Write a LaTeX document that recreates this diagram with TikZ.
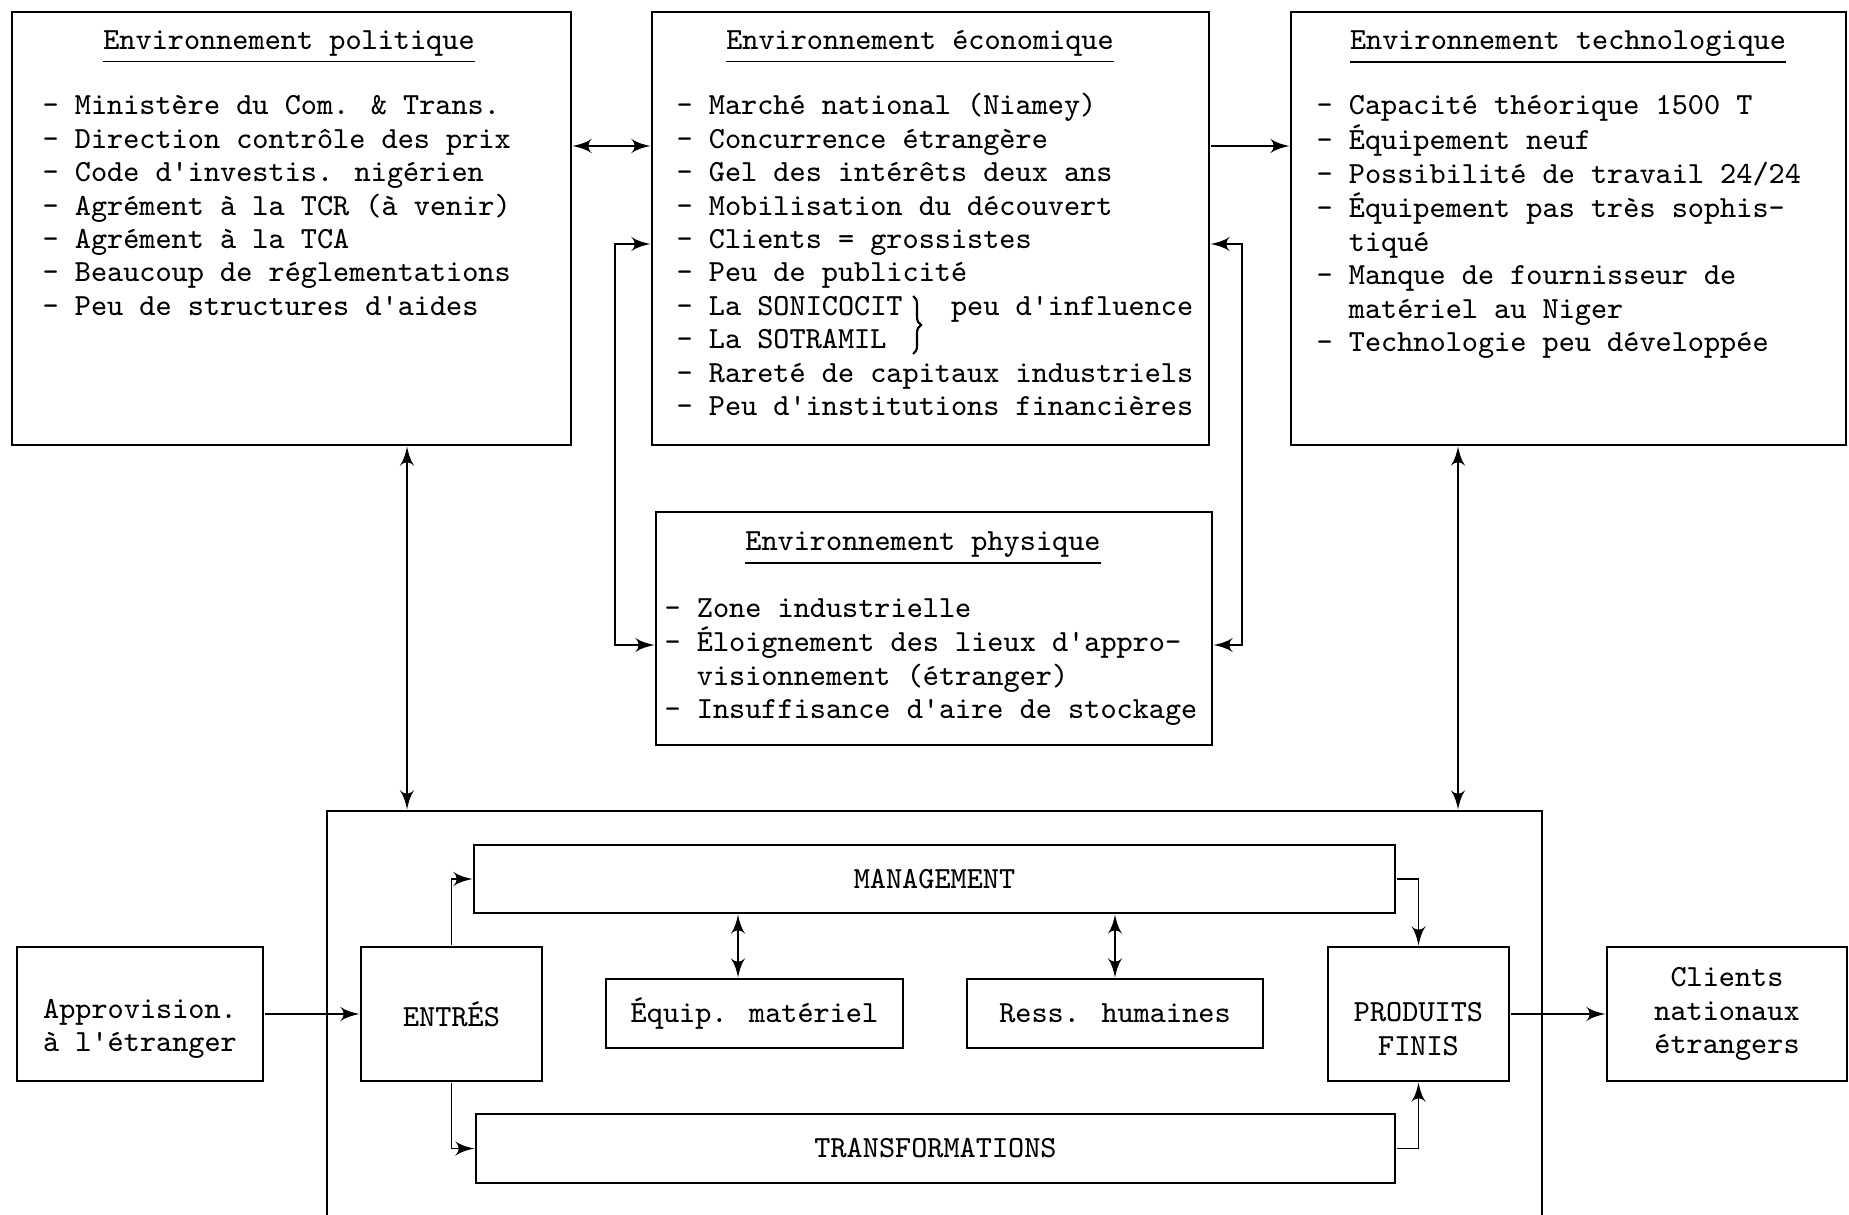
\documentclass[tikz,border=0pt]{standalone}
\usepackage{tikz}
\usetikzlibrary{arrows,decorations.pathreplacing}

\begin{document}
\begin{tikzpicture}[x=0.1mm,y=-0.1mm]
    \tikzset{font=\fontsize{8.75}{9.5}\selectfont\ttfamily,
        line width=0.9pt}
    \tikzset{box/.style = {shape=rectangle,draw,inner sep=0pt,align=center}}
    \tikzset{title/.style = {anchor=base,inner sep=0pt}}
    \tikzset{list/.style = {anchor=base west,inner sep=0pt}}
    \tikzset{edge/.style = {> = latex'}}
    \useasboundingbox (0,0) rectangle (1849,1215);
    \clip (0,0) rectangle (1849,1215);

    % environments
    \node[box,minimum width=55.9mm,minimum height=43.3mm] (pol) at (291.5,228.5) {};
    \node[box,minimum width=55.7mm,minimum height=43.3mm] (eco) at (930.5,228.5) {};
    \node[box,minimum width=55.5mm,minimum height=43.3mm] (tec) at (1568.5,228.5) {};
    \node[box,minimum width=55.6mm,minimum height=23.3mm] (phy) at (934,628.5) {};

    \node[title] (poltitle) at (289,50) {\underline{Environnement politique}};
    \node[title] (ecotitle) at (920,50) {\underline{Environnement économique}};
    \node[title] (tectitle) at (1568,50) {\underline{Environnement technologique}};
    \node[title] (phytitle) at (923,551) {\underline{Environnement physique}};

    \node[list] (pollist) at (41,115) {\begin{tabular}[t]{@{}l@{}}
        - Ministère du Com. \& Trans.\\
        - Direction contrôle des prix\\
        - Code d'investis. nigérien\\
        - Agrément à la TCR (à venir)\\
        - Agrément à la TCA\\
        - Beaucoup de réglementations\\
        - Peu de structures d'aides
        \end{tabular}};
    \node[list] (ecolist) at (675,115) {\begin{tabular}[t]{@{}l@{}}
        - Marché national (Niamey)\\
        - Concurrence étrangère\\
        - Gel des intérêts deux ans\\
        - Mobilisation du découvert\\
        - Clients = grossistes\\
        - Peu de publicité\\
        - La SONICOCIT\hphantom{xxx}peu d'influence\\
        - La SOTRAMIL\\
        - Rareté de capitaux industriels\\
        - Peu d'institutions financières
        \end{tabular}};
    \node[list] (teclist) at (1315,115) {\begin{tabular}[t]{@{}l@{}}
        - Capacité théorique 1500 T\\
        - Équipement neuf\\
        - Possibilité de travail 24/24\\
        - Équipement pas très sophis-\\
        \hphantom{xx}tiqué\\
        - Manque de fournisseur de\\
        \hphantom{xx}matériel au Niger\\
        - Technologie peu développée
        \end{tabular}};
    \node[list] (phylist) at (663,617) {\begin{tabular}[t]{@{}l@{}}
        - Zone industrielle\\
        - Éloignement des lieux d'appro-\\
        \hphantom{xx}visionnement (étranger)\\
        - Insuffisance d'aire de stockage
        \end{tabular}};
    \draw[decorate,decoration={brace,amplitude=0.8mm},line width=0.6pt] (913,296) -- (913,354);

    % firm
    \node[box,minimum width=121.5mm,minimum height=44.9mm] (sys) at (934.5,1035.5) {};
    \node[box,minimum width=92.1mm,minimum height=6.8mm] (man) at (934.5,879) {MANAGEMENT};
    \node[box,minimum width=91.9mm,minimum height=6.9mm] (tra) at (935.5,1148.5) {TRANSFORMATIONS};
    \node[box,minimum width=18.1mm,minimum height=13.4mm] (entres) at (451.5,1014) {ENTRÉS};
    \node[box,minimum width=29.7mm,minimum height=6.9mm] (equip) at (754.5,1013.5) {Équip. matériel};
    \node[box,minimum width=29.6mm,minimum height=6.9mm] (ress) at (1115,1013.5) {Ress. humaines};
    \node[box,minimum width=18.1mm,minimum height=13.4mm] (prod) at (1418.5,1014) {\rule{0pt}{14pt}PRODUITS\\FINIS};
    \node[box,minimum width=24.6mm,minimum height=13.4mm] (appro) at (140,1014) {\rule{0pt}{14pt}Approvision.\\à l'étranger};
    \node[box,minimum width=24mm,minimum height=13.4mm] (clients) at (1727,1014) {Clients\\nationaux\\étrangers};

    % connector coordinates
    \coordinate (ya) at (0,146);
    \coordinate (yb) at (0,244);
    \coordinate (yc) at (0,645);
    \coordinate (xl) at (615,0);
    \coordinate (xr) at (1242,0);
    \coordinate (xp) at (407,0);
    \coordinate (xt) at (1458,0);
    \coordinate (xe) at (738,0);

    %edges
    \draw[edge,<->] (pol.east |- ya) -- (eco.west |- ya);
    \draw[edge,->] (eco.east |- ya) -- (tec.west |- ya);
    \draw[edge,<->] (eco.west |- yb) -| (xl |- yc) -- (phy.west |- yc);
    \draw[edge,<->] (eco.east |- yb) -| (xr |- yc) -- (phy.east |- yc);
    \draw[edge,<->] (pol.south -| xp) -- (sys.north -| xp);
    \draw[edge,<->] (tec.south -| xt) -- (sys.north -| xt);
    \draw[edge,->] (appro) -- (entres);
    \draw[edge,->] (entres.north) |- (man.west);
    \draw[edge,->] (entres.south) |- (tra.west);
    \draw[edge,->] (man.east) -| (prod.north);
    \draw[edge,->] (tra.east) -| (prod.south);
    \draw[edge,<->] (man.south -| xe) -- (equip.north -| xe);
    \draw[edge,<->] (man.south -| ress.north) -- (ress.north);
    \draw[edge,->] (prod) -- (clients);
\end{tikzpicture}
\end{document}
